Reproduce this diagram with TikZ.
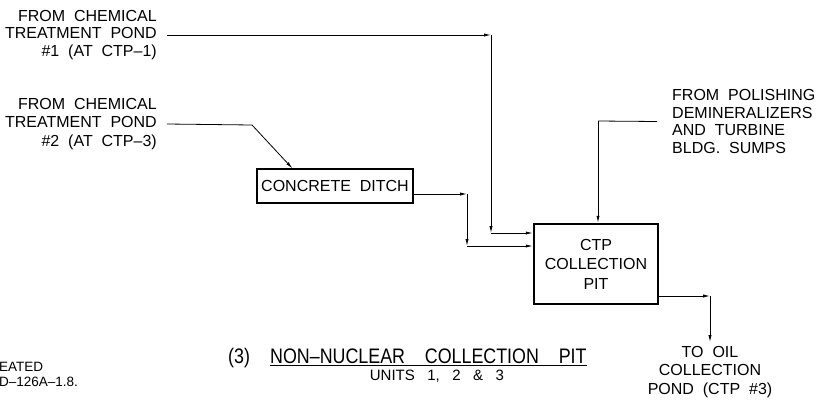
\documentclass[tikz,border=0pt]{standalone}
\usepackage{fontspec}
\setmainfont[WordSpace=2]{Liberation Sans}
\newfontfamily\titlefont[FakeStretch=0.85,WordSpace=4,Ligatures=TeX]{Liberation Sans}
\newfontfamily\unitsfont[WordSpace=3]{Liberation Sans}
\usetikzlibrary{arrows.meta}

\begin{document}
\begin{tikzpicture}[x=1pt,y=-1pt,
  lbl/.style={inner sep=0pt, font=\fontsize{16}{17.5}\selectfont},
  ln/.style={line width=0.8pt},
  arr/.style={line width=0.8pt,-{Latex[length=7pt,width=3.2pt]}},
  ttl/.style={inner sep=0pt,anchor=base west,font=\titlefont\fontsize{21}{24}\selectfont},
  ]
\useasboundingbox (0,0) rectangle (822,400);

% source labels
\node[lbl,align=right,anchor=east] (src1) at (157,35) {FROM CHEMICAL\\TREATMENT POND\\\#1 (AT CTP--1)};
\node[lbl,align=right,anchor=east,font=\fontsize{16}{18.5}\selectfont] (src2) at (157,124) {FROM CHEMICAL\\TREATMENT POND\\\#2 (AT CTP--3)};
\node[lbl,align=left,anchor=west] (polish) at (672,121.5) {FROM POLISHING\\DEMINERALIZERS\\AND TURBINE\\BLDG.\ SUMPS};
\node[lbl,align=center,font=\fontsize{16}{18.5}\selectfont] (out) at (710,372) {TO OIL\\COLLECTION\\POND (CTP \#3)};

% boxes
\node[lbl,draw,line width=1.2pt,minimum width=156pt,minimum height=34pt] (ditch) at (335,186) {CONCRETE DITCH};
\node[lbl,draw,line width=2.5pt,minimum width=124pt,minimum height=80pt,align=center,font=\fontsize{16}{19.5}\selectfont] (pit) at (596,264) {CTP\\COLLECTION\\PIT};

% corner points
\coordinate (a1) at (491,35);
\coordinate (a2) at (491,233);
\coordinate (b1) at (252,125);
\coordinate (d1) at (467,194);
\coordinate (d2) at (467,246);
\coordinate (p1) at (598,121);
\coordinate (o1) at (710,296);

% pond #1
\draw[arr] ([xshift=10pt]src1.east) -- (a1);
\draw[arr] (a1) -- (a2);
\draw[arr] (a2) -- (a2 -| pit.west);

% pond #2
\draw[ln] ([xshift=10pt]src2.east) -- (b1);
\draw[arr] (b1) -- ([xshift=36pt]ditch.north west);

% ditch to pit
\draw[arr] (ditch.east |- d1) -- (d1);
\draw[arr] (d1) -- (d2);
\draw[arr] (d2) -- (d2 -| pit.west);

% polishing
\draw[ln] ([xshift=-15pt]polish.west) -- (p1);
\draw[arr] (p1) -- (p1 |- pit.north);

% output
\draw[arr] (pit.east |- o1) -- (o1);
\draw[arr] (o1) -- ([yshift=4pt]out.north);

% title
\node[ttl] (num) at (228,363) {(3)};
\node[ttl] (title) at (270,363) {NON--NUCLEAR COLLECTION PIT};
\draw[line width=0.8pt] ([yshift=-2.5pt]title.base west) -- ([yshift=-2.5pt]title.base east);
\node[inner sep=0pt,anchor=base,font=\unitsfont\fontsize{15}{16}\selectfont] (units) at (437,380) {UNITS 1, 2 \& 3};

% cut-off note at left edge
\node[inner sep=0pt,anchor=west,align=left,font=\fontsize{13.5}{15.5}\selectfont] (cut) at (-1,374.5) {EATED\\D--126A--1.8.};
\end{tikzpicture}
\end{document}
